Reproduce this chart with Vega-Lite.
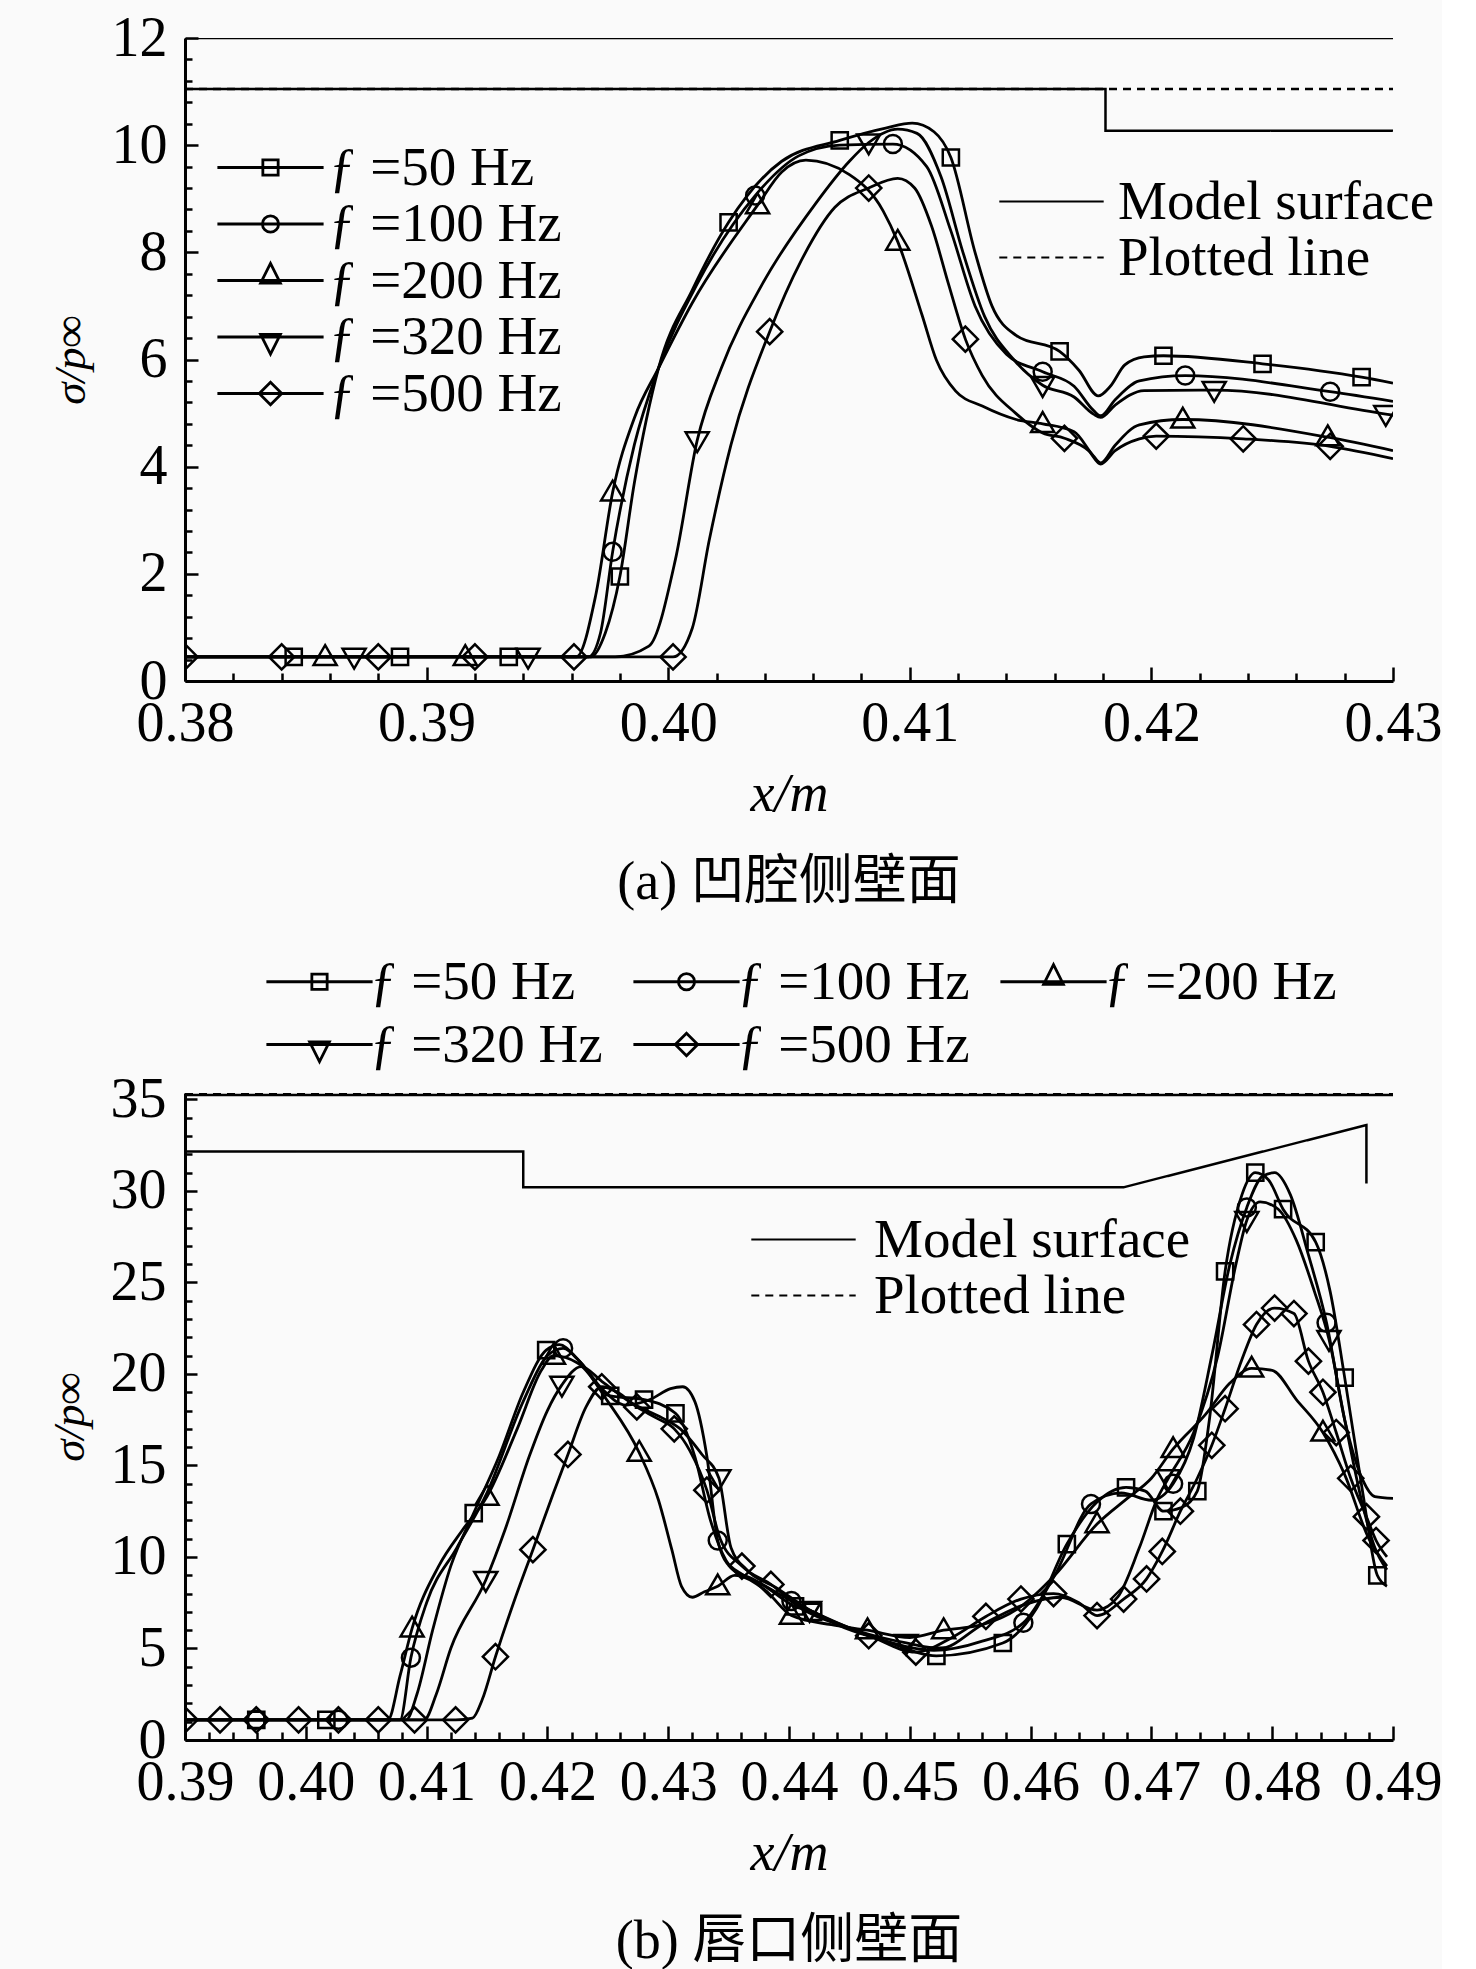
{
  "$schema": "https://vega.github.io/schema/vega-lite/v6.json",
  "background": "#fafafa",
  "padding": {"left": 47, "top": 10, "right": 0, "bottom": 0},
  "bounds": "flush",
  "spacing": 412,
  "config": {
    "font": "Liberation Serif",
    "view": {"stroke": null},
    "axis": {
      "labelFont": "Liberation Serif",
      "labelFontSize": 56,
      "labelColor": "black",
      "labelOverlap": false,
      "labelFlush": false,
      "labelBound": false,
      "labelLimit": 400,
      "titleFont": "Liberation Serif",
      "titleFontSize": 54,
      "titleFontWeight": "normal",
      "titleFontStyle": "italic",
      "titleColor": "black",
      "domainColor": "black",
      "domainWidth": 3,
      "tickColor": "black",
      "tickWidth": 2.5,
      "tickCount": 200,
      "grid": false
    },
    "legend": {
      "labelFont": "Liberation Serif",
      "labelFontSize": 55,
      "labelColor": "black",
      "labelLimit": 600,
      "padding": 0,
      "symbolStrokeColor": "black",
      "symbolFillColor": "transparent",
      "symbolStrokeWidth": 2.8,
      "symbolSize": 324
    },
    "title": {
      "font": "Liberation Serif, Noto Sans CJK SC",
      "fontSize": 54,
      "fontWeight": "normal",
      "color": "black"
    }
  },
  "resolve": {"scale": {"x": "independent", "y": "independent", "shape": "independent", "strokeDash": "independent"}},
  "datasets": {
    "surfA": [
      {"k": "Model surface", "g": "t", "i": 0, "x": 0.38, "y": 12},
      {"k": "Model surface", "g": "t", "i": 1, "x": 0.43, "y": 12},
      {"k": "Model surface", "g": "w", "i": 0, "x": 0.38, "y": 11.05},
      {"k": "Model surface", "g": "w", "i": 1, "x": 0.4181, "y": 11.05},
      {"k": "Model surface", "g": "w", "i": 2, "x": 0.4181, "y": 10.27},
      {"k": "Model surface", "g": "w", "i": 3, "x": 0.43, "y": 10.27},
      {"k": "Plotted line", "g": "p", "i": 0, "x": 0.38, "y": 11.05},
      {"k": "Plotted line", "g": "p", "i": 1, "x": 0.43, "y": 11.05}
    ],
    "surfB": [
      {"k": "Model surface", "g": "w", "i": 0, "x": 0.39, "y": 32.15},
      {"k": "Model surface", "g": "w", "i": 1, "x": 0.418, "y": 32.15},
      {"k": "Model surface", "g": "w", "i": 2, "x": 0.418, "y": 30.2},
      {"k": "Model surface", "g": "w", "i": 3, "x": 0.4677, "y": 30.2},
      {"k": "Model surface", "g": "w", "i": 4, "x": 0.4878, "y": 33.6},
      {"k": "Model surface", "g": "w", "i": 5, "x": 0.4878, "y": 30.4},
      {"k": "Model surface", "g": "t", "i": 0, "x": 0.39, "y": 35.24},
      {"k": "Model surface", "g": "t", "i": 1, "x": 0.49, "y": 35.24},
      {"k": "Plotted line", "g": "p", "i": 0, "x": 0.39, "y": 35.33},
      {"k": "Plotted line", "g": "p", "i": 1, "x": 0.49, "y": 35.33}
    ],
    "a": [
      {"s": "50", "x": 0.38, "y": 0.45, "m": 0},
      {"s": "50", "x": 0.3845, "y": 0.45, "m": 1},
      {"s": "50", "x": 0.3889, "y": 0.45, "m": 1},
      {"s": "50", "x": 0.3934, "y": 0.45, "m": 1},
      {"s": "50", "x": 0.3968, "y": 0.45, "m": 0},
      {"s": "50", "x": 0.3974, "y": 0.9, "m": 0},
      {"s": "50", "x": 0.398, "y": 1.95, "m": 1},
      {"s": "50", "x": 0.3986, "y": 3.7, "m": 0},
      {"s": "50", "x": 0.3996, "y": 5.84, "m": 0},
      {"s": "50", "x": 0.401, "y": 7.3, "m": 0},
      {"s": "50", "x": 0.4025, "y": 8.56, "m": 1},
      {"s": "50", "x": 0.4047, "y": 9.7, "m": 0},
      {"s": "50", "x": 0.4071, "y": 10.09, "m": 1},
      {"s": "50", "x": 0.409, "y": 10.32, "m": 0},
      {"s": "50", "x": 0.4101, "y": 10.41, "m": 0},
      {"s": "50", "x": 0.411, "y": 10.25, "m": 0},
      {"s": "50", "x": 0.4117, "y": 9.77, "m": 1},
      {"s": "50", "x": 0.4127, "y": 8.0, "m": 0},
      {"s": "50", "x": 0.4134, "y": 7.0, "m": 0},
      {"s": "50", "x": 0.4144, "y": 6.45, "m": 0},
      {"s": "50", "x": 0.4162, "y": 6.15, "m": 1},
      {"s": "50", "x": 0.417, "y": 5.8, "m": 0},
      {"s": "50", "x": 0.4178, "y": 5.32, "m": 0},
      {"s": "50", "x": 0.4183, "y": 5.5, "m": 0},
      {"s": "50", "x": 0.4189, "y": 5.9, "m": 0},
      {"s": "50", "x": 0.4197, "y": 6.05, "m": 0},
      {"s": "50", "x": 0.4205, "y": 6.07, "m": 1},
      {"s": "50", "x": 0.4246, "y": 5.92, "m": 1},
      {"s": "50", "x": 0.4287, "y": 5.67, "m": 1},
      {"s": "50", "x": 0.43, "y": 5.56, "m": 0},
      {"s": "100", "x": 0.38, "y": 0.45, "m": 0},
      {"s": "100", "x": 0.3967, "y": 0.45, "m": 0},
      {"s": "100", "x": 0.3972, "y": 0.9, "m": 0},
      {"s": "100", "x": 0.3977, "y": 2.41, "m": 1},
      {"s": "100", "x": 0.3986, "y": 4.41, "m": 0},
      {"s": "100", "x": 0.3996, "y": 5.84, "m": 0},
      {"s": "100", "x": 0.4012, "y": 7.41, "m": 0},
      {"s": "100", "x": 0.4036, "y": 9.06, "m": 1},
      {"s": "100", "x": 0.4054, "y": 9.8, "m": 0},
      {"s": "100", "x": 0.4071, "y": 10.0, "m": 0},
      {"s": "100", "x": 0.4093, "y": 10.02, "m": 1},
      {"s": "100", "x": 0.4107, "y": 9.6, "m": 0},
      {"s": "100", "x": 0.4117, "y": 8.4, "m": 0},
      {"s": "100", "x": 0.4127, "y": 7.0, "m": 0},
      {"s": "100", "x": 0.414, "y": 6.1, "m": 0},
      {"s": "100", "x": 0.4155, "y": 5.77, "m": 1},
      {"s": "100", "x": 0.4168, "y": 5.5, "m": 0},
      {"s": "100", "x": 0.4176, "y": 5.05, "m": 0},
      {"s": "100", "x": 0.4179, "y": 4.95, "m": 0},
      {"s": "100", "x": 0.4185, "y": 5.25, "m": 0},
      {"s": "100", "x": 0.4195, "y": 5.6, "m": 0},
      {"s": "100", "x": 0.4214, "y": 5.7, "m": 1},
      {"s": "100", "x": 0.4274, "y": 5.4, "m": 1},
      {"s": "100", "x": 0.43, "y": 5.22, "m": 0},
      {"s": "200", "x": 0.38, "y": 0.45, "m": 0},
      {"s": "200", "x": 0.3858, "y": 0.45, "m": 1},
      {"s": "200", "x": 0.3916, "y": 0.45, "m": 1},
      {"s": "200", "x": 0.3962, "y": 0.45, "m": 0},
      {"s": "200", "x": 0.397, "y": 1.6, "m": 0},
      {"s": "200", "x": 0.3977, "y": 3.52, "m": 1},
      {"s": "200", "x": 0.3986, "y": 4.91, "m": 0},
      {"s": "200", "x": 0.3996, "y": 5.84, "m": 0},
      {"s": "200", "x": 0.401, "y": 7.06, "m": 0},
      {"s": "200", "x": 0.4037, "y": 8.88, "m": 1},
      {"s": "200", "x": 0.4047, "y": 9.5, "m": 0},
      {"s": "200", "x": 0.4057, "y": 9.72, "m": 0},
      {"s": "200", "x": 0.4075, "y": 9.45, "m": 0},
      {"s": "200", "x": 0.4089, "y": 8.77, "m": 0},
      {"s": "200", "x": 0.4095, "y": 8.2, "m": 1},
      {"s": "200", "x": 0.4105, "y": 6.84, "m": 0},
      {"s": "200", "x": 0.4111, "y": 5.99, "m": 0},
      {"s": "200", "x": 0.4119, "y": 5.41, "m": 0},
      {"s": "200", "x": 0.413, "y": 5.13, "m": 0},
      {"s": "200", "x": 0.4144, "y": 4.88, "m": 0},
      {"s": "200", "x": 0.4155, "y": 4.8, "m": 1},
      {"s": "200", "x": 0.4168, "y": 4.65, "m": 0},
      {"s": "200", "x": 0.4176, "y": 4.2, "m": 0},
      {"s": "200", "x": 0.4179, "y": 4.07, "m": 0},
      {"s": "200", "x": 0.4185, "y": 4.4, "m": 0},
      {"s": "200", "x": 0.4195, "y": 4.78, "m": 0},
      {"s": "200", "x": 0.4213, "y": 4.88, "m": 1},
      {"s": "200", "x": 0.4273, "y": 4.55, "m": 1},
      {"s": "200", "x": 0.43, "y": 4.3, "m": 0},
      {"s": "320", "x": 0.38, "y": 0.45, "m": 0},
      {"s": "320", "x": 0.387, "y": 0.45, "m": 1},
      {"s": "320", "x": 0.3942, "y": 0.45, "m": 1},
      {"s": "320", "x": 0.3978, "y": 0.45, "m": 0},
      {"s": "320", "x": 0.3992, "y": 0.65, "m": 0},
      {"s": "320", "x": 0.4003, "y": 2.27, "m": 0},
      {"s": "320", "x": 0.4012, "y": 4.49, "m": 1},
      {"s": "320", "x": 0.4022, "y": 5.84, "m": 0},
      {"s": "320", "x": 0.4039, "y": 7.41, "m": 0},
      {"s": "320", "x": 0.4061, "y": 8.91, "m": 0},
      {"s": "320", "x": 0.4075, "y": 9.7, "m": 0},
      {"s": "320", "x": 0.4083, "y": 10.05, "m": 1},
      {"s": "320", "x": 0.4095, "y": 10.3, "m": 0},
      {"s": "320", "x": 0.4103, "y": 10.22, "m": 0},
      {"s": "320", "x": 0.4113, "y": 9.4, "m": 0},
      {"s": "320", "x": 0.4122, "y": 8.0, "m": 0},
      {"s": "320", "x": 0.4131, "y": 6.8, "m": 0},
      {"s": "320", "x": 0.4143, "y": 6.0, "m": 0},
      {"s": "320", "x": 0.4155, "y": 5.52, "m": 1},
      {"s": "320", "x": 0.4168, "y": 5.3, "m": 0},
      {"s": "320", "x": 0.4176, "y": 4.98, "m": 0},
      {"s": "320", "x": 0.4179, "y": 4.92, "m": 0},
      {"s": "320", "x": 0.4185, "y": 5.15, "m": 0},
      {"s": "320", "x": 0.4197, "y": 5.42, "m": 0},
      {"s": "320", "x": 0.4226, "y": 5.43, "m": 1},
      {"s": "320", "x": 0.4297, "y": 4.98, "m": 1},
      {"s": "320", "x": 0.43, "y": 4.96, "m": 0},
      {"s": "500", "x": 0.38, "y": 0.45, "m": 1},
      {"s": "500", "x": 0.384, "y": 0.45, "m": 1},
      {"s": "500", "x": 0.388, "y": 0.45, "m": 1},
      {"s": "500", "x": 0.392, "y": 0.45, "m": 1},
      {"s": "500", "x": 0.3961, "y": 0.45, "m": 1},
      {"s": "500", "x": 0.4, "y": 0.45, "m": 0},
      {"s": "500", "x": 0.4002, "y": 0.45, "m": 1},
      {"s": "500", "x": 0.401, "y": 0.99, "m": 0},
      {"s": "500", "x": 0.4017, "y": 2.63, "m": 0},
      {"s": "500", "x": 0.4026, "y": 4.41, "m": 0},
      {"s": "500", "x": 0.4042, "y": 6.52, "m": 1},
      {"s": "500", "x": 0.4055, "y": 7.84, "m": 0},
      {"s": "500", "x": 0.4069, "y": 8.84, "m": 0},
      {"s": "500", "x": 0.4083, "y": 9.2, "m": 1},
      {"s": "500", "x": 0.4095, "y": 9.38, "m": 0},
      {"s": "500", "x": 0.4102, "y": 9.2, "m": 0},
      {"s": "500", "x": 0.4109, "y": 8.49, "m": 0},
      {"s": "500", "x": 0.4116, "y": 7.41, "m": 0},
      {"s": "500", "x": 0.4123, "y": 6.38, "m": 1},
      {"s": "500", "x": 0.413, "y": 5.7, "m": 0},
      {"s": "500", "x": 0.4144, "y": 4.99, "m": 0},
      {"s": "500", "x": 0.4155, "y": 4.63, "m": 0},
      {"s": "500", "x": 0.4164, "y": 4.53, "m": 1},
      {"s": "500", "x": 0.4174, "y": 4.3, "m": 0},
      {"s": "500", "x": 0.4179, "y": 4.05, "m": 0},
      {"s": "500", "x": 0.4185, "y": 4.3, "m": 0},
      {"s": "500", "x": 0.4195, "y": 4.52, "m": 0},
      {"s": "500", "x": 0.4202, "y": 4.57, "m": 1},
      {"s": "500", "x": 0.4238, "y": 4.52, "m": 1},
      {"s": "500", "x": 0.4274, "y": 4.38, "m": 1},
      {"s": "500", "x": 0.43, "y": 4.15, "m": 0}
    ],
    "b": [
      {"s": "50", "x": 0.39, "y": 1.1, "m": 0},
      {"s": "50", "x": 0.3959, "y": 1.1, "m": 1},
      {"s": "50", "x": 0.4017, "y": 1.1, "m": 1},
      {"s": "50", "x": 0.4083, "y": 1.1, "m": 0},
      {"s": "50", "x": 0.4092, "y": 2.5, "m": 0},
      {"s": "50", "x": 0.4105, "y": 6.0, "m": 0},
      {"s": "50", "x": 0.412, "y": 9.5, "m": 0},
      {"s": "50", "x": 0.4139, "y": 12.4, "m": 1},
      {"s": "50", "x": 0.416, "y": 15.5, "m": 0},
      {"s": "50", "x": 0.418, "y": 19.0, "m": 0},
      {"s": "50", "x": 0.4199, "y": 21.3, "m": 1},
      {"s": "50", "x": 0.421, "y": 21.6, "m": 0},
      {"s": "50", "x": 0.4225, "y": 20.8, "m": 0},
      {"s": "50", "x": 0.4252, "y": 18.8, "m": 1},
      {"s": "50", "x": 0.428, "y": 18.6, "m": 1},
      {"s": "50", "x": 0.4306, "y": 17.85, "m": 1},
      {"s": "50", "x": 0.4322, "y": 15.5, "m": 0},
      {"s": "50", "x": 0.4335, "y": 12.0, "m": 0},
      {"s": "50", "x": 0.4348, "y": 9.8, "m": 0},
      {"s": "50", "x": 0.436, "y": 9.1, "m": 0},
      {"s": "50", "x": 0.438, "y": 8.4, "m": 0},
      {"s": "50", "x": 0.4405, "y": 7.3, "m": 1},
      {"s": "50", "x": 0.442, "y": 7.0, "m": 1},
      {"s": "50", "x": 0.444, "y": 6.3, "m": 0},
      {"s": "50", "x": 0.448, "y": 5.4, "m": 0},
      {"s": "50", "x": 0.4522, "y": 4.6, "m": 1},
      {"s": "50", "x": 0.4577, "y": 5.3, "m": 1},
      {"s": "50", "x": 0.4605, "y": 7.2, "m": 0},
      {"s": "50", "x": 0.463, "y": 10.7, "m": 1},
      {"s": "50", "x": 0.4655, "y": 13.0, "m": 0},
      {"s": "50", "x": 0.4679, "y": 13.8, "m": 1},
      {"s": "50", "x": 0.4695, "y": 13.6, "m": 0},
      {"s": "50", "x": 0.471, "y": 12.5, "m": 1},
      {"s": "50", "x": 0.4725, "y": 12.7, "m": 0},
      {"s": "50", "x": 0.4738, "y": 13.6, "m": 1},
      {"s": "50", "x": 0.4748, "y": 17.5, "m": 0},
      {"s": "50", "x": 0.4761, "y": 25.6, "m": 1},
      {"s": "50", "x": 0.4775, "y": 29.8, "m": 0},
      {"s": "50", "x": 0.4786, "y": 31.0, "m": 1},
      {"s": "50", "x": 0.4797, "y": 30.6, "m": 0},
      {"s": "50", "x": 0.4809, "y": 29.0, "m": 1},
      {"s": "50", "x": 0.4836, "y": 27.2, "m": 1},
      {"s": "50", "x": 0.4848, "y": 24.5, "m": 0},
      {"s": "50", "x": 0.486, "y": 19.8, "m": 1},
      {"s": "50", "x": 0.4875, "y": 13.5, "m": 0},
      {"s": "50", "x": 0.4887, "y": 9.0, "m": 1},
      {"s": "50", "x": 0.4895, "y": 8.4, "m": 0},
      {"s": "100", "x": 0.39, "y": 1.1, "m": 0},
      {"s": "100", "x": 0.3959, "y": 1.1, "m": 1},
      {"s": "100", "x": 0.4027, "y": 1.1, "m": 1},
      {"s": "100", "x": 0.4078, "y": 1.1, "m": 0},
      {"s": "100", "x": 0.4087, "y": 4.5, "m": 1},
      {"s": "100", "x": 0.41, "y": 7.5, "m": 0},
      {"s": "100", "x": 0.4125, "y": 10.5, "m": 0},
      {"s": "100", "x": 0.415, "y": 13.5, "m": 0},
      {"s": "100", "x": 0.418, "y": 18.5, "m": 0},
      {"s": "100", "x": 0.42, "y": 21.0, "m": 0},
      {"s": "100", "x": 0.4213, "y": 21.4, "m": 1},
      {"s": "100", "x": 0.4228, "y": 20.6, "m": 0},
      {"s": "100", "x": 0.4245, "y": 19.2, "m": 0},
      {"s": "100", "x": 0.4265, "y": 18.3, "m": 0},
      {"s": "100", "x": 0.4285, "y": 18.6, "m": 0},
      {"s": "100", "x": 0.4302, "y": 19.2, "m": 0},
      {"s": "100", "x": 0.4312, "y": 19.3, "m": 0},
      {"s": "100", "x": 0.4322, "y": 18.5, "m": 0},
      {"s": "100", "x": 0.4332, "y": 15.5, "m": 0},
      {"s": "100", "x": 0.4341, "y": 10.9, "m": 1},
      {"s": "100", "x": 0.4352, "y": 9.4, "m": 0},
      {"s": "100", "x": 0.437, "y": 8.8, "m": 0},
      {"s": "100", "x": 0.4402, "y": 7.6, "m": 1},
      {"s": "100", "x": 0.444, "y": 6.4, "m": 0},
      {"s": "100", "x": 0.448, "y": 5.4, "m": 0},
      {"s": "100", "x": 0.452, "y": 4.9, "m": 0},
      {"s": "100", "x": 0.456, "y": 5.4, "m": 0},
      {"s": "100", "x": 0.4594, "y": 6.4, "m": 1},
      {"s": "100", "x": 0.462, "y": 9.0, "m": 0},
      {"s": "100", "x": 0.465, "y": 12.9, "m": 1},
      {"s": "100", "x": 0.4675, "y": 13.5, "m": 0},
      {"s": "100", "x": 0.47, "y": 13.1, "m": 0},
      {"s": "100", "x": 0.4718, "y": 14.0, "m": 1},
      {"s": "100", "x": 0.4735, "y": 16.5, "m": 0},
      {"s": "100", "x": 0.475, "y": 21.0, "m": 0},
      {"s": "100", "x": 0.4765, "y": 26.0, "m": 0},
      {"s": "100", "x": 0.4779, "y": 29.1, "m": 1},
      {"s": "100", "x": 0.4792, "y": 30.8, "m": 0},
      {"s": "100", "x": 0.4802, "y": 31.0, "m": 0},
      {"s": "100", "x": 0.4815, "y": 29.8, "m": 0},
      {"s": "100", "x": 0.483, "y": 26.5, "m": 0},
      {"s": "100", "x": 0.4845, "y": 22.8, "m": 1},
      {"s": "100", "x": 0.486, "y": 17.5, "m": 0},
      {"s": "100", "x": 0.4875, "y": 14.2, "m": 0},
      {"s": "100", "x": 0.4885, "y": 13.3, "m": 0},
      {"s": "100", "x": 0.49, "y": 13.2, "m": 0},
      {"s": "200", "x": 0.39, "y": 1.1, "m": 0},
      {"s": "200", "x": 0.4068, "y": 1.1, "m": 0},
      {"s": "200", "x": 0.4078, "y": 3.5, "m": 0},
      {"s": "200", "x": 0.4088, "y": 6.1, "m": 1},
      {"s": "200", "x": 0.411, "y": 9.5, "m": 0},
      {"s": "200", "x": 0.413, "y": 11.5, "m": 0},
      {"s": "200", "x": 0.415, "y": 13.3, "m": 1},
      {"s": "200", "x": 0.4175, "y": 17.0, "m": 0},
      {"s": "200", "x": 0.4195, "y": 20.2, "m": 0},
      {"s": "200", "x": 0.4205, "y": 21.0, "m": 1},
      {"s": "200", "x": 0.4225, "y": 20.6, "m": 0},
      {"s": "200", "x": 0.425, "y": 18.5, "m": 0},
      {"s": "200", "x": 0.4276, "y": 15.7, "m": 1},
      {"s": "200", "x": 0.4292, "y": 13.1, "m": 0},
      {"s": "200", "x": 0.4303, "y": 10.4, "m": 0},
      {"s": "200", "x": 0.4311, "y": 8.4, "m": 0},
      {"s": "200", "x": 0.432, "y": 7.8, "m": 0},
      {"s": "200", "x": 0.433, "y": 8.1, "m": 0},
      {"s": "200", "x": 0.4341, "y": 8.4, "m": 1},
      {"s": "200", "x": 0.4355, "y": 9.0, "m": 0},
      {"s": "200", "x": 0.438, "y": 8.2, "m": 0},
      {"s": "200", "x": 0.4402, "y": 6.8, "m": 1},
      {"s": "200", "x": 0.4435, "y": 6.3, "m": 0},
      {"s": "200", "x": 0.4465, "y": 6.0, "m": 1},
      {"s": "200", "x": 0.45, "y": 5.6, "m": 0},
      {"s": "200", "x": 0.4528, "y": 6.0, "m": 1},
      {"s": "200", "x": 0.456, "y": 6.3, "m": 0},
      {"s": "200", "x": 0.459, "y": 7.2, "m": 0},
      {"s": "200", "x": 0.462, "y": 9.0, "m": 0},
      {"s": "200", "x": 0.4655, "y": 11.8, "m": 1},
      {"s": "200", "x": 0.468, "y": 13.2, "m": 0},
      {"s": "200", "x": 0.47, "y": 14.3, "m": 0},
      {"s": "200", "x": 0.4718, "y": 15.9, "m": 1},
      {"s": "200", "x": 0.4745, "y": 17.8, "m": 0},
      {"s": "200", "x": 0.4765, "y": 19.5, "m": 0},
      {"s": "200", "x": 0.4783, "y": 20.3, "m": 1},
      {"s": "200", "x": 0.48, "y": 20.2, "m": 0},
      {"s": "200", "x": 0.482, "y": 18.6, "m": 0},
      {"s": "200", "x": 0.4842, "y": 16.8, "m": 1},
      {"s": "200", "x": 0.486, "y": 14.5, "m": 0},
      {"s": "200", "x": 0.488, "y": 11.0, "m": 0},
      {"s": "200", "x": 0.4895, "y": 9.5, "m": 0},
      {"s": "320", "x": 0.39, "y": 1.1, "m": 0},
      {"s": "320", "x": 0.4098, "y": 1.1, "m": 0},
      {"s": "320", "x": 0.4108, "y": 2.5, "m": 0},
      {"s": "320", "x": 0.412, "y": 5.0, "m": 0},
      {"s": "320", "x": 0.4149, "y": 8.74, "m": 1},
      {"s": "320", "x": 0.4165, "y": 11.5, "m": 0},
      {"s": "320", "x": 0.4185, "y": 15.5, "m": 0},
      {"s": "320", "x": 0.42, "y": 18.0, "m": 0},
      {"s": "320", "x": 0.4212, "y": 19.4, "m": 1},
      {"s": "320", "x": 0.4228, "y": 20.4, "m": 0},
      {"s": "320", "x": 0.4245, "y": 19.6, "m": 0},
      {"s": "320", "x": 0.427, "y": 18.4, "m": 0},
      {"s": "320", "x": 0.4295, "y": 17.6, "m": 0},
      {"s": "320", "x": 0.431, "y": 17.0, "m": 0},
      {"s": "320", "x": 0.4328, "y": 15.6, "m": 0},
      {"s": "320", "x": 0.4342, "y": 14.3, "m": 1},
      {"s": "320", "x": 0.4352, "y": 10.5, "m": 0},
      {"s": "320", "x": 0.4365, "y": 9.3, "m": 0},
      {"s": "320", "x": 0.439, "y": 8.3, "m": 0},
      {"s": "320", "x": 0.4417, "y": 7.1, "m": 1},
      {"s": "320", "x": 0.446, "y": 5.9, "m": 0},
      {"s": "320", "x": 0.4497, "y": 5.3, "m": 1},
      {"s": "320", "x": 0.4525, "y": 5.0, "m": 0},
      {"s": "320", "x": 0.456, "y": 6.3, "m": 0},
      {"s": "320", "x": 0.4595, "y": 7.4, "m": 0},
      {"s": "320", "x": 0.4625, "y": 7.8, "m": 0},
      {"s": "320", "x": 0.4655, "y": 7.1, "m": 0},
      {"s": "320", "x": 0.4672, "y": 7.8, "m": 0},
      {"s": "320", "x": 0.469, "y": 10.5, "m": 0},
      {"s": "320", "x": 0.4705, "y": 13.2, "m": 0},
      {"s": "320", "x": 0.4714, "y": 14.3, "m": 1},
      {"s": "320", "x": 0.4735, "y": 16.8, "m": 0},
      {"s": "320", "x": 0.4755, "y": 21.0, "m": 0},
      {"s": "320", "x": 0.477, "y": 26.0, "m": 0},
      {"s": "320", "x": 0.4779, "y": 28.4, "m": 1},
      {"s": "320", "x": 0.479, "y": 29.4, "m": 0},
      {"s": "320", "x": 0.4805, "y": 29.0, "m": 0},
      {"s": "320", "x": 0.482, "y": 27.3, "m": 0},
      {"s": "320", "x": 0.4835, "y": 24.5, "m": 0},
      {"s": "320", "x": 0.4847, "y": 21.9, "m": 1},
      {"s": "320", "x": 0.486, "y": 17.5, "m": 0},
      {"s": "320", "x": 0.4875, "y": 12.8, "m": 0},
      {"s": "320", "x": 0.4885, "y": 10.5, "m": 0},
      {"s": "320", "x": 0.4895, "y": 9.3, "m": 0},
      {"s": "500", "x": 0.39, "y": 1.1, "m": 1},
      {"s": "500", "x": 0.3929, "y": 1.1, "m": 1},
      {"s": "500", "x": 0.3959, "y": 1.1, "m": 1},
      {"s": "500", "x": 0.3994, "y": 1.1, "m": 1},
      {"s": "500", "x": 0.4027, "y": 1.1, "m": 1},
      {"s": "500", "x": 0.406, "y": 1.1, "m": 1},
      {"s": "500", "x": 0.409, "y": 1.1, "m": 1},
      {"s": "500", "x": 0.4124, "y": 1.1, "m": 1},
      {"s": "500", "x": 0.4138, "y": 1.2, "m": 0},
      {"s": "500", "x": 0.4146, "y": 2.2, "m": 0},
      {"s": "500", "x": 0.4157, "y": 4.55, "m": 1},
      {"s": "500", "x": 0.4172, "y": 7.5, "m": 0},
      {"s": "500", "x": 0.4188, "y": 10.4, "m": 1},
      {"s": "500", "x": 0.4205, "y": 13.5, "m": 0},
      {"s": "500", "x": 0.4217, "y": 15.6, "m": 1},
      {"s": "500", "x": 0.4232, "y": 18.2, "m": 0},
      {"s": "500", "x": 0.4245, "y": 19.3, "m": 1},
      {"s": "500", "x": 0.4258, "y": 19.0, "m": 0},
      {"s": "500", "x": 0.4274, "y": 18.2, "m": 1},
      {"s": "500", "x": 0.429, "y": 17.6, "m": 0},
      {"s": "500", "x": 0.4305, "y": 17.0, "m": 1},
      {"s": "500", "x": 0.4318, "y": 15.8, "m": 0},
      {"s": "500", "x": 0.4332, "y": 13.65, "m": 1},
      {"s": "500", "x": 0.4343, "y": 11.0, "m": 0},
      {"s": "500", "x": 0.4361, "y": 9.5, "m": 1},
      {"s": "500", "x": 0.4385, "y": 8.5, "m": 1},
      {"s": "500", "x": 0.441, "y": 7.2, "m": 0},
      {"s": "500", "x": 0.4445, "y": 6.2, "m": 0},
      {"s": "500", "x": 0.4466, "y": 5.7, "m": 1},
      {"s": "500", "x": 0.4505, "y": 4.8, "m": 1},
      {"s": "500", "x": 0.4535, "y": 5.6, "m": 0},
      {"s": "500", "x": 0.4563, "y": 6.75, "m": 1},
      {"s": "500", "x": 0.4592, "y": 7.7, "m": 1},
      {"s": "500", "x": 0.4619, "y": 8.0, "m": 1},
      {"s": "500", "x": 0.464, "y": 7.5, "m": 0},
      {"s": "500", "x": 0.4655, "y": 6.8, "m": 1},
      {"s": "500", "x": 0.4677, "y": 7.7, "m": 1},
      {"s": "500", "x": 0.4696, "y": 8.8, "m": 1},
      {"s": "500", "x": 0.4709, "y": 10.3, "m": 1},
      {"s": "500", "x": 0.4724, "y": 12.5, "m": 1},
      {"s": "500", "x": 0.4738, "y": 14.3, "m": 0},
      {"s": "500", "x": 0.475, "y": 16.1, "m": 1},
      {"s": "500", "x": 0.4761, "y": 18.1, "m": 1},
      {"s": "500", "x": 0.4775, "y": 20.8, "m": 0},
      {"s": "500", "x": 0.4787, "y": 22.7, "m": 1},
      {"s": "500", "x": 0.4802, "y": 23.6, "m": 1},
      {"s": "500", "x": 0.4818, "y": 23.3, "m": 1},
      {"s": "500", "x": 0.483, "y": 20.7, "m": 1},
      {"s": "500", "x": 0.4842, "y": 19.0, "m": 1},
      {"s": "500", "x": 0.4853, "y": 16.8, "m": 1},
      {"s": "500", "x": 0.4865, "y": 14.3, "m": 1},
      {"s": "500", "x": 0.4878, "y": 12.2, "m": 1},
      {"s": "500", "x": 0.4886, "y": 10.9, "m": 1},
      {"s": "500", "x": 0.4895, "y": 10.0, "m": 0}
    ]
  },
  "vconcat": [
    {
      "width": 1208,
      "height": 643,
      "title": {"text": "(a) 凹腔侧壁面", "orient": "bottom", "offset": 35},
      "resolve": {"scale": {"shape": "independent"}},
      "layer": [
        {
          "data": {"name": "surfA"},
          "mark": {"type": "line", "color": "black", "strokeWidth": 2.5, "clip": true},
          "encoding": {
            "x": {
              "field": "x", "type": "quantitative",
              "scale": {"domain": [0.38, 0.43], "nice": false, "zero": false},
              "axis": {
                "title": "x/m",
                "titlePadding": 10,
                "labelPadding": 29,
                "labelOverlap": false,
                "tickCount": 200,
                "values": [0.38, 0.382, 0.384, 0.386, 0.388, 0.39, 0.392, 0.394, 0.396, 0.398, 0.4, 0.402, 0.404, 0.406, 0.408, 0.41, 0.412, 0.414, 0.416, 0.418, 0.42, 0.422, 0.424, 0.426, 0.428, 0.43],
                "labelExpr": "abs(datum.value*100 - round(datum.value*100)) < 0.01 ? format(datum.value, '.2f') : ''",
                "tickSize": {"condition": {"test": "abs(datum.value*100 - round(datum.value*100)) < 0.01", "value": -14}, "value": -8}
              }
            },
            "y": {
              "field": "y", "type": "quantitative",
              "scale": {"domain": [0, 12], "nice": false},
              "axis": {
                "title": "σ/p∞",
                "titleFontSize": 45,
                "titlePadding": 18,
                "labelPadding": 31,
                "labelOverlap": false,
                "tickCount": 200,
                "values": [0, 0.4, 0.8, 1.2, 1.6, 2, 2.4, 2.8, 3.2, 3.6, 4, 4.4, 4.8, 5.2, 5.6, 6, 6.4, 6.8, 7.2, 7.6, 8, 8.4, 8.8, 9.2, 9.6, 10, 10.4, 10.8, 11.2, 11.6, 12],
                "labelExpr": "abs(datum.value/2 - round(datum.value/2)) < 0.01 ? format(datum.value, 'd') : ''",
                "tickSize": {"condition": {"test": "abs(datum.value/2 - round(datum.value/2)) < 0.01", "value": -13}, "value": -7}
              }
            },
            "detail": {"field": "g"},
            "order": {"field": "i", "type": "quantitative"},
            "strokeDash": {
              "field": "k", "type": "nominal",
              "scale": {"domain": ["Model surface", "Plotted line"], "range": [[1, 0], [8, 6]]},
              "legend": {
                "title": null, "orient": "none", "legendX": 839, "legendY": 136,
                "symbolType": "M-5.8,0H5.8", "symbolStrokeWidth": 2, "labelOffset": 39, "rowPadding": 0
              }
            }
          }
        },
        {
          "data": {"name": "a"},
          "mark": {"type": "line", "interpolate": "monotone", "color": "black", "strokeWidth": 2.8, "clip": true},
          "encoding": {
            "x": {"field": "x", "type": "quantitative"},
            "y": {"field": "y", "type": "quantitative"},
            "detail": {"field": "s"}
          }
        },
        {
          "data": {"name": "a"},
          "transform": [{"filter": "datum.m == 1"}],
          "mark": {"type": "point", "filled": false, "color": "black", "opacity": 1, "strokeWidth": 2.5, "size": 324, "clip": true},
          "encoding": {
            "x": {"field": "x", "type": "quantitative"},
            "y": {"field": "y", "type": "quantitative"},
            "shape": {
              "field": "s", "type": "nominal",
              "scale": {
                "domain": ["50", "100", "200", "320", "500"],
                "range": ["M-0.9,-0.9H0.9V0.9H-0.9Z", "M-1,0A1,1,0,1,1,1,0A1,1,0,1,1,-1,0Z", "M0,-1.3L1.28,0.9H-1.28Z", "M0,1.3L1.28,-0.9H-1.28Z", "M-1.4,0L0,-1.4L1.4,0L0,1.4Z"]
              },
              "legend": null
            }
          }
        },
        {
          "data": {"name": "a"},
          "transform": [{"filter": "datum.m == 9"}],
          "mark": {"type": "point", "filled": false, "color": "black", "opacity": 1, "strokeWidth": 2.5},
          "encoding": {
            "x": {"field": "x", "type": "quantitative"},
            "y": {"field": "y", "type": "quantitative"},
            "shape": {
              "field": "s", "type": "nominal",
              "scale": {
                "domain": ["50", "100", "200", "320", "500"],
                "range": ["M-5.9,0H5.9M-0.85,-0.85H0.85V0.85H-0.85Z", "M-5.9,0H5.9M-0.9,0A0.9,0.9,0,1,1,0.9,0A0.9,0.9,0,1,1,-0.9,0Z", "M-5.9,0H5.9M0,-1.9L1.1,0.3H-1.1Z", "M-5.9,0H5.9M0,1.9L1.1,-0.3H-1.1Z", "M-5.9,0H5.9M-1.25,0L0,-1.25L1.25,0L0,1.25Z"]
              },
              "legend": {
                "title": null, "orient": "none", "legendX": 58, "legendY": 102,
                "labelExpr": "'ƒ =' + datum.label + ' Hz'",
                "labelOffset": 31, "rowPadding": 0.5
              }
            }
          }
        }
      ]
    },
    {
      "width": 1208,
      "height": 647,
      "title": {"text": "(b) 唇口侧壁面", "orient": "bottom", "offset": 35},
      "resolve": {"scale": {"shape": "independent"}},
      "layer": [
        {
          "data": {"name": "surfB"},
          "mark": {"type": "line", "color": "black", "strokeWidth": 2.5, "clip": true},
          "encoding": {
            "x": {
              "field": "x", "type": "quantitative",
              "scale": {"domain": [0.39, 0.49], "nice": false, "zero": false},
              "axis": {
                "title": "x/m",
                "titlePadding": 10,
                "labelPadding": 29,
                "labelOverlap": false,
                "tickCount": 200,
                "values": [0.39, 0.392, 0.394, 0.396, 0.398, 0.4, 0.402, 0.404, 0.406, 0.408, 0.41, 0.412, 0.414, 0.416, 0.418, 0.42, 0.422, 0.424, 0.426, 0.428, 0.43, 0.432, 0.434, 0.436, 0.438, 0.44, 0.442, 0.444, 0.446, 0.448, 0.45, 0.452, 0.454, 0.456, 0.458, 0.46, 0.462, 0.464, 0.466, 0.468, 0.47, 0.472, 0.474, 0.476, 0.478, 0.48, 0.482, 0.484, 0.486, 0.488, 0.49],
                "labelExpr": "abs(datum.value*100 - round(datum.value*100)) < 0.01 ? format(datum.value, '.2f') : ''",
                "tickSize": {"condition": {"test": "abs(datum.value*100 - round(datum.value*100)) < 0.01", "value": -14}, "value": -8}
              }
            },
            "y": {
              "field": "y", "type": "quantitative",
              "scale": {"domain": [0, 35.35], "nice": false},
              "axis": {
                "title": "σ/p∞",
                "titleFontSize": 45,
                "titlePadding": 18,
                "labelPadding": 31,
                "labelOverlap": false,
                "tickCount": 200,
                "values": [0, 1, 2, 3, 4, 5, 6, 7, 8, 9, 10, 11, 12, 13, 14, 15, 16, 17, 18, 19, 20, 21, 22, 23, 24, 25, 26, 27, 28, 29, 30, 31, 32, 33, 34, 35],
                "labelExpr": "datum.value % 5 == 0 ? format(datum.value, 'd') : ''",
                "tickSize": {"condition": {"test": "datum.value % 5 == 0", "value": -12}, "value": -7}
              }
            },
            "detail": {"field": "g"},
            "order": {"field": "i", "type": "quantitative"},
            "strokeDash": {
              "field": "k", "type": "nominal",
              "scale": {"domain": ["Model surface", "Plotted line"], "range": [[1, 0], [8, 6]]},
              "legend": {
                "title": null, "orient": "none", "legendX": 591, "legendY": 119,
                "symbolType": "M-5.8,0H5.8", "symbolStrokeWidth": 2, "labelOffset": 43, "rowPadding": 0
              }
            }
          }
        },
        {
          "data": {"name": "b"},
          "mark": {"type": "line", "interpolate": "monotone", "color": "black", "strokeWidth": 2.8, "clip": true},
          "encoding": {
            "x": {"field": "x", "type": "quantitative"},
            "y": {"field": "y", "type": "quantitative"},
            "detail": {"field": "s"}
          }
        },
        {
          "data": {"name": "b"},
          "transform": [{"filter": "datum.m == 1"}],
          "mark": {"type": "point", "filled": false, "color": "black", "opacity": 1, "strokeWidth": 2.5, "size": 324, "clip": true},
          "encoding": {
            "x": {"field": "x", "type": "quantitative"},
            "y": {"field": "y", "type": "quantitative"},
            "shape": {
              "field": "s", "type": "nominal",
              "scale": {
                "domain": ["50", "100", "200", "320", "500"],
                "range": ["M-0.9,-0.9H0.9V0.9H-0.9Z", "M-1,0A1,1,0,1,1,1,0A1,1,0,1,1,-1,0Z", "M0,-1.3L1.28,0.9H-1.28Z", "M0,1.3L1.28,-0.9H-1.28Z", "M-1.4,0L0,-1.4L1.4,0L0,1.4Z"]
              },
              "legend": null
            }
          }
        },
        {
          "data": {"name": "b"},
          "transform": [{"filter": "datum.m == 9"}],
          "mark": {"type": "point", "filled": false, "color": "black", "opacity": 1, "strokeWidth": 2.5},
          "encoding": {
            "x": {"field": "x", "type": "quantitative"},
            "y": {"field": "y", "type": "quantitative"},
            "shape": {
              "field": "s", "type": "nominal",
              "scale": {
                "domain": ["50", "100", "200", "320", "500"],
                "range": ["M-5.9,0H5.9M-0.85,-0.85H0.85V0.85H-0.85Z", "M-5.9,0H5.9M-0.9,0A0.9,0.9,0,1,1,0.9,0A0.9,0.9,0,1,1,-0.9,0Z", "M-5.9,0H5.9M0,-1.9L1.1,0.3H-1.1Z", "M-5.9,0H5.9M0,1.9L1.1,-0.3H-1.1Z", "M-5.9,0H5.9M-1.25,0L0,-1.25L1.25,0L0,1.25Z"]
              },
              "legend": {
                "title": null, "orient": "none", "legendX": 107, "legendY": -139,
                "direction": "horizontal", "columns": 3, "columnPadding": 24, "gridAlign": "all",
                "labelExpr": "'ƒ =' + datum.label + ' Hz'",
                "labelOffset": 23, "rowPadding": 7
              }
            }
          }
        }
      ]
    }
  ]
}
